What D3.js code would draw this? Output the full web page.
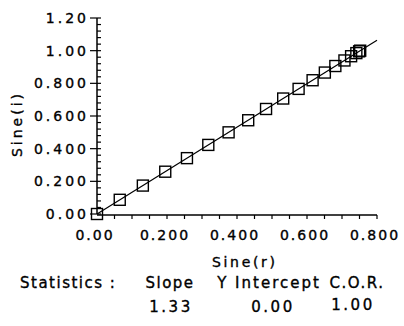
<!DOCTYPE html>
<html>
<head>
<meta charset="utf-8">
<script src="https://cdn.jsdelivr.net/npm/d3@7"></script>
<style>
  body { margin: 0; background: #fff; }
  text { font-family: "DejaVu Sans", sans-serif; fill: #000; stroke: #000; stroke-width: 0.35px; }
</style>
</head>
<body>
<div id="chart"></div>
<script>
// sine of refraction angle vs sine of incidence angle
const sineR = [0, 0.065, 0.131, 0.195, 0.257, 0.318, 0.376, 0.432, 0.483, 0.532, 0.576, 0.616, 0.651, 0.681, 0.707, 0.726, 0.741, 0.749, 0.752]
const sineI = [0, 0.087, 0.174, 0.259, 0.342, 0.423, 0.500, 0.574, 0.643, 0.707, 0.766, 0.819, 0.866, 0.906, 0.940, 0.966, 0.985, 0.996, 1.000]

const xTickLabels = ["0.00", "0.200", "0.400", "0.600", "0.800"]
const yTickLabels = ["0.00", "0.200", "0.400", "0.600", "0.800", "1.00", "1.20"]

const statHeaders = ["Slope", "Y Intercept", "C.O.R."]
const statValues = ["1.33", "0.00", "1.00"]
const slope = 1.33
const intercept = 0.00

const width = 404, height = 326

const svg = d3.select("#chart")
    .append("svg")
    .attr("width", width)
    .attr("height", height)

const x = d3.scaleLinear().domain([0, 0.8]).range([97, 377])
const y = d3.scaleLinear().domain([0, 1.2]).range([214, 18])

// y axis: major ticks to the left with labels, minor ticks inside
const yAxis = svg.append("g").attr("transform", "translate(" + x(0) + ",0)")
yAxis.append("line")
    .attr("y1", y(1.2)).attr("y2", y(0))
    .attr("stroke", "#000").attr("stroke-width", 1.5)
yAxis.selectAll(".minor")
    .data(d3.range(0, 31).map(i => i * 0.04))
    .enter().append("line")
    .attr("x1", 0).attr("x2", 4)
    .attr("y1", d => y(d)).attr("y2", d => y(d))
    .attr("stroke", "#000").attr("stroke-width", 1.2)
yAxis.selectAll(".major")
    .data(yTickLabels)
    .enter().append("line")
    .attr("x1", -7).attr("x2", 0)
    .attr("y1", (d, i) => y(i * 0.2)).attr("y2", (d, i) => y(i * 0.2))
    .attr("stroke", "#000").attr("stroke-width", 1.2)
yAxis.selectAll(".lab")
    .data(yTickLabels)
    .enter().append("text")
    .attr("x", -8)
    .attr("y", (d, i) => y(i * 0.2) + 5)
    .attr("text-anchor", "end")
    .attr("font-size", 14)
    .attr("letter-spacing", 3)
    .text(d => d)

// x axis
const xAxis = svg.append("g").attr("transform", "translate(0," + (y(0) + 1) + ")")
xAxis.append("line")
    .attr("x1", x(0)).attr("x2", x(0.8))
    .attr("stroke", "#000").attr("stroke-width", 1.5)
xAxis.selectAll(".tick")
    .data(d3.range(1, 17).map(i => i * 0.05))
    .enter().append("line")
    .attr("x1", d => x(d)).attr("x2", d => x(d))
    .attr("y1", 0).attr("y2", 4)
    .attr("stroke", "#000").attr("stroke-width", 1.2)
xAxis.selectAll(".lab")
    .data(xTickLabels)
    .enter().append("text")
    .attr("x", (d, i) => x(i * 0.2) - 2)
    .attr("y", 25)
    .attr("text-anchor", "middle")
    .attr("font-size", 14)
    .attr("letter-spacing", 2)
    .text(d => d)

// axis titles
svg.append("text")
    .attr("x", 212).attr("y", 267)
    .attr("font-size", 14)
    .attr("textLength", 63)
    .attr("lengthAdjust", "spacing")
    .text("Sine(r)")
svg.append("text")
    .attr("transform", "translate(22,157) rotate(-90)")
    .attr("font-size", 14)
    .attr("textLength", 63)
    .attr("lengthAdjust", "spacing")
    .text("Sine(i)")

// regression line
svg.append("line")
    .attr("x1", x(0)).attr("y1", y(intercept))
    .attr("x2", x(0.8)).attr("y2", y(intercept + slope * 0.8))
    .attr("stroke", "#000").attr("stroke-width", 1.2)

// data squares
const data = sineR.map((r, i) => ({ r: r, s: sineI[i] }))
svg.selectAll(".pt")
    .data(data)
    .enter().append("rect")
    .attr("x", d => x(d.r) - 5.5)
    .attr("y", d => y(d.s) - 5.5)
    .attr("width", 11).attr("height", 11)
    .attr("fill", "none")
    .attr("stroke", "#000").attr("stroke-width", 1.4)

// statistics table
svg.append("text")
    .attr("x", 20).attr("y", 288)
    .attr("font-size", 15)
    .attr("letter-spacing", 1.5)
    .text("Statistics :")
const colX = [170, 269, 357]
const hdrSpacing = [1.5, 2, 1.5]
svg.selectAll(".hdr")
    .data(statHeaders)
    .enter().append("text")
    .attr("x", (d, i) => colX[i]).attr("y", 288)
    .attr("text-anchor", "middle")
    .attr("font-size", 15)
    .attr("letter-spacing", (d, i) => hdrSpacing[i])
    .text(d => d)
const valX = [171, 273, 353]
svg.selectAll(".val")
    .data(statValues)
    .enter().append("text")
    .attr("x", (d, i) => valX[i])
    .attr("y", (d, i) => i == 2 ? 310 : 312)
    .attr("text-anchor", "middle")
    .attr("font-size", 15)
    .attr("letter-spacing", 2.5)
    .text(d => d)
</script>
</body>
</html>
